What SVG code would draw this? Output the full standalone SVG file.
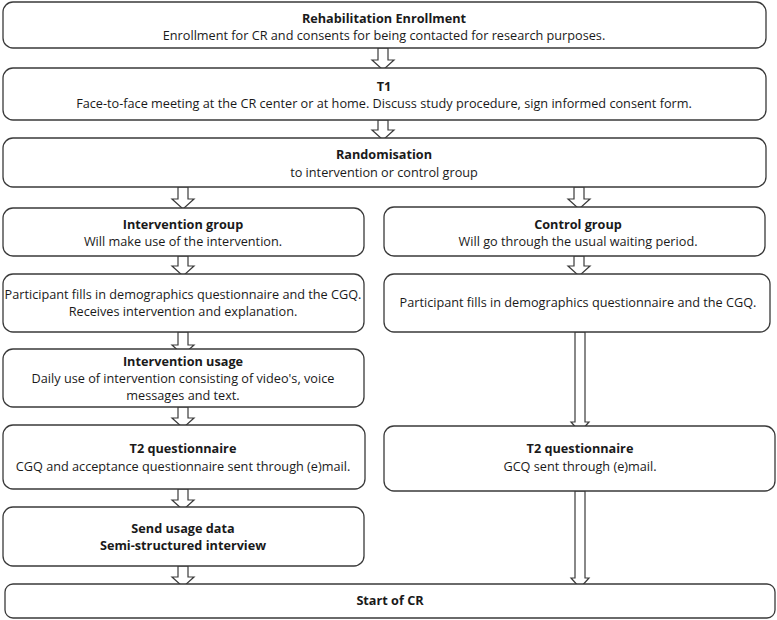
<svg xmlns="http://www.w3.org/2000/svg" width="777" height="620" viewBox="0 0 777 620">
<defs>
<style>
.box{fill:#fff;stroke:#3a3a3a;stroke-width:1.3}
.arr{fill:#fff;stroke:#3a3a3a;stroke-width:1.2;stroke-linejoin:miter}
text{font-family:"Open Sans","Noto Sans","Liberation Sans",sans-serif;font-size:12.7px;fill:#1a1a1a;text-anchor:middle}
.b{font-weight:bold}
</style>
</defs>
<rect width="777" height="620" fill="#fff"/>
<g id="connectors">
<path class="arr" d="M378,48 H388 V60 H394 L383,70 L372,60 H378 Z"/>
<path class="arr" d="M378,120 H388 V130 H394 L383,140 L372,130 H378 Z"/>
<path class="arr" d="M178,187 H188 V199 H194 L183,209 L172,199 H178 Z"/>
<path class="arr" d="M574,187 H584 V199 H590 L579,209 L568,199 H574 Z"/>
<path class="arr" d="M178,256 H188 V266 H194 L183,276 L172,266 H178 Z"/>
<path class="arr" d="M574,256 H584 V266 H590 L579,276 L568,266 H574 Z"/>
<path class="arr" d="M178,332 H188 V345 H194 L183,355 L172,345 H178 Z"/>
<path class="arr" d="M178,407 H188 V418 H194 L183,428 L172,418 H178 Z"/>
<path class="arr" d="M575,332 H585 V422 H589 L580,432 L571,422 H575 Z"/>
<path class="arr" d="M178,489 H188 V500 H194 L183,510 L172,500 H178 Z"/>
<path class="arr" d="M575,491 H585 V578 H589 L580,588 L571,578 H575 Z"/>
<path class="arr" d="M178,566 H188 V577 H194 L183,587 L172,577 H178 Z"/>
</g>
<g id="enroll">
<rect class="box" x="3" y="2" width="763" height="46" rx="10"/>
<text x="384" y="23" class="b">Rehabilitation Enrollment</text>
<text x="384" y="40">Enrollment for CR and consents for being contacted for research purposes.</text>
</g>
<g id="t1">
<rect class="box" x="3" y="68" width="763" height="52" rx="10"/>
<text x="384" y="91" class="b">T1</text>
<text x="384" y="108">Face-to-face meeting at the CR center or at home. Discuss study procedure, sign informed consent form.</text>
</g>
<g id="random">
<rect class="box" x="3" y="138" width="763" height="49" rx="10"/>
<text x="384" y="159" class="b">Randomisation</text>
<text x="384" y="177">to intervention or control group</text>
</g>
<g id="intgroup">
<rect class="box" x="3" y="208" width="361" height="48" rx="10"/>
<text x="183" y="229" class="b">Intervention group</text>
<text x="183" y="246">Will make use of the intervention.</text>
</g>
<g id="intfill">
<rect class="box" x="3" y="274" width="361" height="58" rx="10"/>
<text x="183" y="299">Participant fills in demographics questionnaire and the CGQ.</text>
<text x="183" y="316">Receives intervention and explanation.</text>
</g>
<g id="intusage">
<rect class="box" x="3" y="349" width="361" height="58" rx="10"/>
<text x="183" y="366" class="b">Intervention usage</text>
<text x="183" y="383">Daily use of intervention consisting of video's, voice</text>
<text x="183" y="400">messages and text.</text>
</g>
<g id="intt2">
<rect class="box" x="3" y="425" width="362" height="64" rx="10"/>
<text x="183" y="453" class="b">T2 questionnaire</text>
<text x="183" y="471">CGQ and acceptance questionnaire sent through (e)mail.</text>
</g>
<g id="usage">
<rect class="box" x="3" y="507" width="361" height="59" rx="10"/>
<text x="183" y="533" class="b">Send usage data</text>
<text x="183" y="550" class="b">Semi-structured interview</text>
</g>
<g id="ctrlgroup">
<rect class="box" x="384" y="207" width="381" height="49" rx="10"/>
<text x="578" y="229" class="b">Control group</text>
<text x="578" y="246">Will go through the usual waiting period.</text>
</g>
<g id="ctrlfill">
<rect class="box" x="384" y="274" width="386" height="58" rx="10"/>
<text x="578" y="307">Participant fills in demographics questionnaire and the CGQ.</text>
</g>
<g id="ctrlt2">
<rect class="box" x="384" y="426" width="391" height="65" rx="10"/>
<text x="580" y="453" class="b">T2 questionnaire</text>
<text x="580" y="471">GCQ sent through (e)mail.</text>
</g>
<g id="startcr">
<rect class="box" x="5" y="584" width="770" height="34" rx="8"/>
<text x="390" y="605" class="b">Start of CR</text>
</g>
</svg>
